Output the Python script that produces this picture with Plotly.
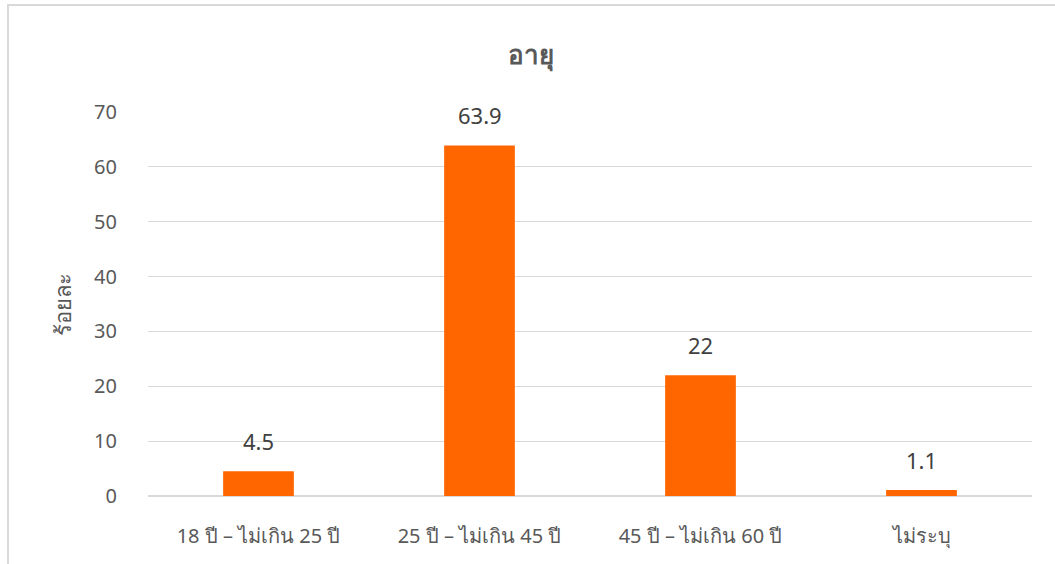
import plotly.graph_objects as go

categories = ["18 ปี – ไม่เกิน 25 ปี", "25 ปี – ไม่เกิน 45 ปี", "45 ปี – ไม่เกิน 60 ปี", "ไม่ระบุ"]
values = [4.5, 63.9, 22, 1.1]
labels = ["4.5", "63.9", "22", "1.1"]

W, H = 1055, 564
L, R, T, B = 148, 23, 112, 68
pw, ph = W - L - R, H - T - B

fig = go.Figure(go.Bar(
    x=categories, y=values,
    marker=dict(color="#FF6600", line=dict(width=0)),
    width=0.32, hoverinfo="x+y",
))

for c, v, t in zip(categories, values, labels):
    fig.add_annotation(x=c, y=v, text=t, showarrow=False, yanchor="bottom", yshift=13,
                       font=dict(size=22, color="#404040", family="Noto Sans"))

def px_x(v):
    return (v - L) / pw

def px_y(v):
    return (H - B - v) / ph

fig.update_layout(
    width=W, height=H,
    margin=dict(l=L, r=R, t=T, b=B),
    paper_bgcolor="white", plot_bgcolor="white",
    font=dict(family="Noto Sans", color="#595959"),
    title=dict(text="<b>อายุ</b>", x=531 / W, xref="container", xanchor="center",
               y=1 - 55 / H, yanchor="middle", font=dict(size=26, color="#595959")),
    showlegend=False,
    xaxis=dict(showgrid=False, showline=False, ticks="", ticklabelstandoff=26,
               tickfont=dict(size=20, color="#595959")),
    yaxis=dict(range=[0, 70], dtick=10, showgrid=True, gridcolor="#D9D9D9", gridwidth=1,
               zeroline=True, zerolinecolor="#D9D9D9", tickfont=dict(size=20, color="#595959"),
               ticklabelstandoff=30,
               title=dict(text="ร้อยละ", font=dict(size=22, color="#595959"), standoff=16)),
    shapes=[
        dict(type="line", xref="paper", yref="paper",
             x0=px_x(7), x1=px_x(1055), y0=px_y(5), y1=px_y(5),
             line=dict(color="#D9D9D9", width=2), layer="below"),
        dict(type="line", xref="paper", yref="paper",
             x0=px_x(8), x1=px_x(8), y0=px_y(5), y1=px_y(564),
             line=dict(color="#D9D9D9", width=2), layer="below"),
    ],
)

fig.write_html("out.html", config={"displayModeBar": False},
               post_script="document.body.style.margin='0';document.body.style.overflow='hidden';")
